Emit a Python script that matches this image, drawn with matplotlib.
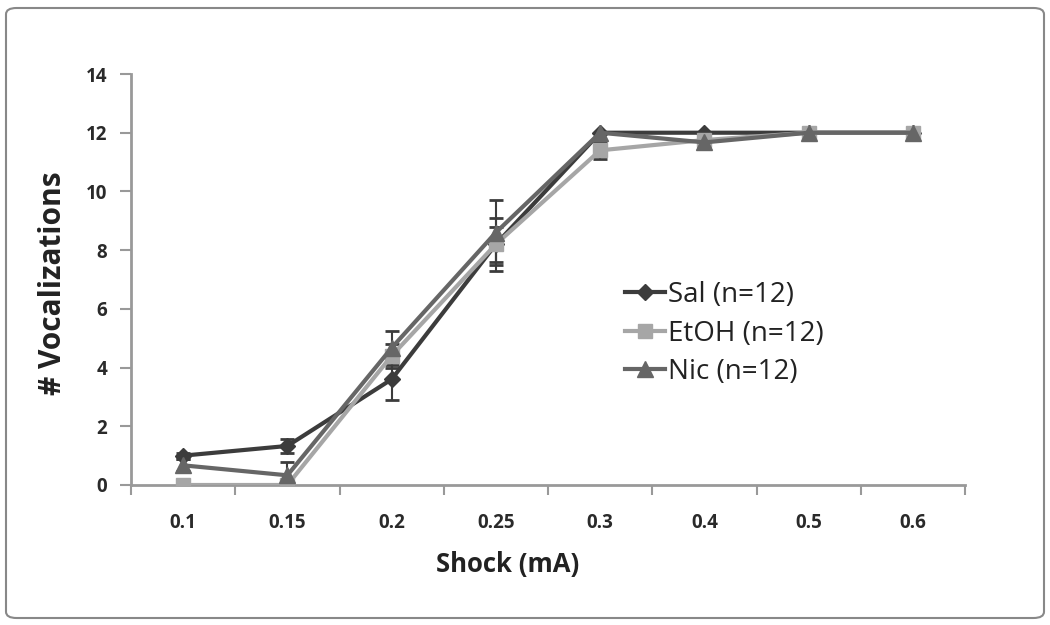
import matplotlib
matplotlib.use("Agg")
import matplotlib.pyplot as plt
from matplotlib.patches import FancyBboxPatch
from matplotlib.lines import Line2D
import numpy as np

categories = ["0.1", "0.15", "0.2", "0.25", "0.3", "0.4", "0.5", "0.6"]
sal = [1.0, 1.33, 3.6, 8.2, 12.0, 12.0, 12.0, 12.0]
sal_err = [0.1, 0.25, 0.7, 0.9, 0.0, 0.0, 0.0, 0.0]
etoh = [0.0, 0.0, 4.4, 8.2, 11.4, 11.75, 12.0, 12.0]
etoh_err = [0.0, 0.0, 0.4, 0.6, 0.3, 0.25, 0.0, 0.0]
nic = [0.67, 0.33, 4.67, 8.6, 12.0, 11.67, 12.0, 12.0]
nic_err = [0.2, 0.45, 0.58, 1.1, 0.0, 0.2, 0.0, 0.0]
yticks = [0, 2, 4, 6, 8, 10, 12, 14]

plt.rcParams['font.family'] = ['Open Sans', 'DejaVu Sans']

fig = plt.figure(figsize=(10.5, 6.25), dpi=100)
ax = fig.add_axes([131/1050, 1-485/625, 834/1050, (485-74)/625])

x = np.arange(len(categories))
series = [
    ("Sal (n=12)", sal, sal_err, "#3c3c3c", "D", 8),
    ("EtOH (n=12)", etoh, etoh_err, "#a6a6a6", "s", 10),
    ("Nic (n=12)", nic, nic_err, "#666666", "^", 11),
]
handles = []
for label, vals, err, col, mk, ms in series:
    ax.errorbar(x, vals, yerr=err, color=col, lw=3, marker=mk, ms=ms,
                ecolor="#3c3c3c", elinewidth=1.5, capsize=5, capthick=2,
                zorder=3)
    handles.append(Line2D([], [], color=col, lw=3, marker=mk, ms=ms, label=label))

ax.set_xlim(-0.5, len(categories) - 0.5)
ax.set_ylim(0, 14)
ax.set_yticks(yticks)
ax.set_yticklabels([str(t) for t in yticks], fontsize=13.5, fontweight='bold',
                   color="#2a2a2a")
ax.set_xticks(x)
ax.set_xticklabels(categories, fontsize=13.5, fontweight='bold', color="#2a2a2a")
ax.tick_params(axis='x', length=0, pad=20)
ax.set_xticks(np.arange(len(categories) + 1) - 0.5, minor=True)
ax.tick_params(axis='x', which='minor', length=7, color="#999999", width=1.5)
ax.tick_params(axis='y', length=8, color="#999999", width=1.5, pad=9)
for s in ['top', 'right']:
    ax.spines[s].set_visible(False)
for s in ['left', 'bottom']:
    ax.spines[s].set_color("#999999")
    ax.spines[s].set_linewidth(2)

ax.set_xlabel("Shock (mA)", fontsize=18.5, fontweight='bold', color="#222222")
ax.xaxis.set_label_coords((508 - 131) / 834, -(551 - 485) / 411)
ax.set_ylabel("# Vocalizations", fontsize=21.5, fontweight='bold', color="#222222")
ax.yaxis.set_label_coords(-(131 - 68) / 834, 0.49)

leg = ax.legend(handles=handles, loc='upper left',
                bbox_to_anchor=((614 - 131) / 834, (485 - 270) / 411),
                frameon=False, fontsize=20, handlelength=1.45,
                labelspacing=0.38, handletextpad=0.1, borderaxespad=0)
for t in leg.get_texts():
    t.set_color("#222222")

border = FancyBboxPatch((6/1050, 7/625), 1038/1050, 610/625,
                        boxstyle="round,pad=0,rounding_size=0.01",
                        transform=fig.transFigure, fill=False,
                        edgecolor="#888888", lw=1.5)
fig.patches.append(border)

fig.savefig("out.png", dpi=100)
